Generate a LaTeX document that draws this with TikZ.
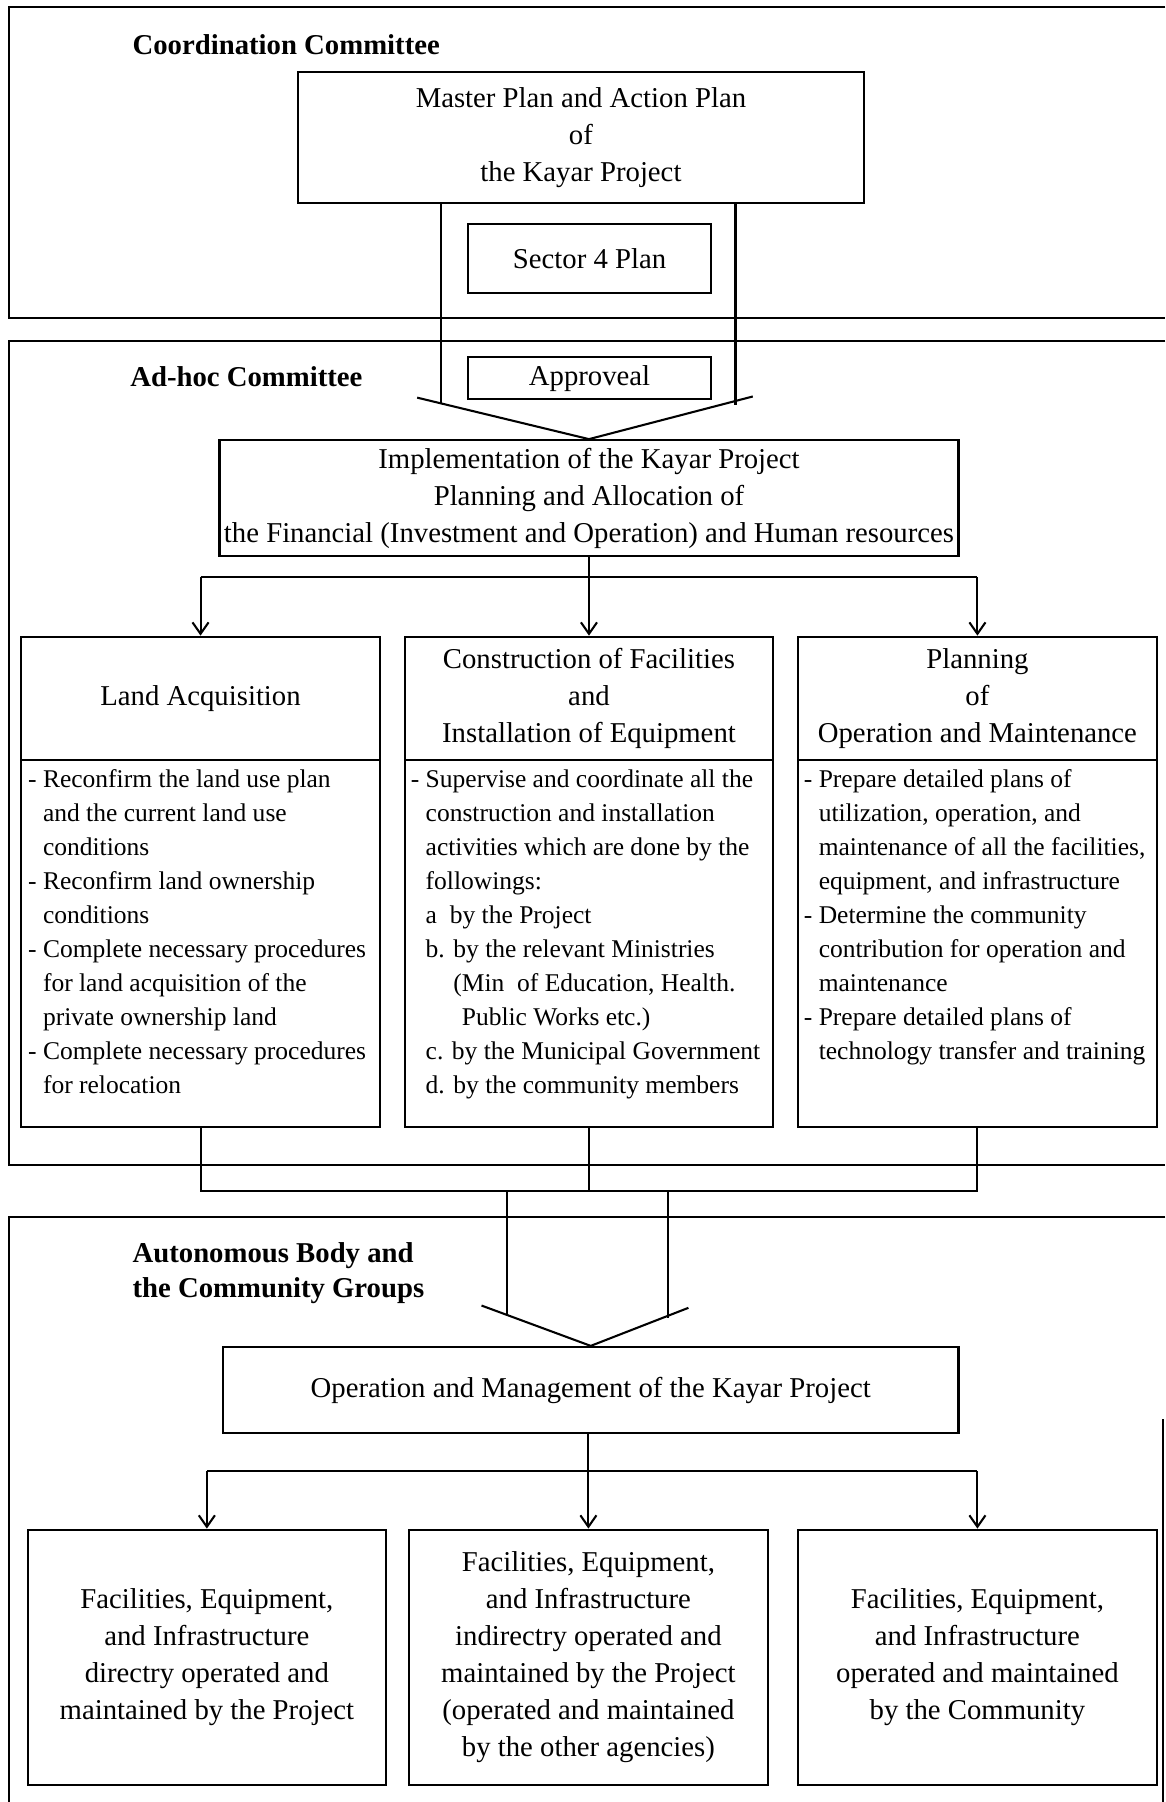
\documentclass[tikz,border=0pt]{standalone}
\usepackage{fontspec}
\setmainfont{Liberation Serif}
\usetikzlibrary{arrows.meta,positioning}
\tikzset{
  box/.style={draw,line width=0.9pt,inner sep=0pt,align=center,font=\fontsize{12.5}{16.1}\selectfont},
  txt/.style={inner sep=0pt,align=left,anchor=north west,font=\fontsize{11.1}{14.8}\selectfont},
  lbl/.style={inner sep=0pt,align=left,anchor=west,font=\fontsize{12.5}{15}\selectfont\bfseries},
  frame/.style={line width=0.8pt},
  link/.style={line width=0.9pt},
  arr/.style={link,-{Straight Barb[length=5pt,width=7pt]}}
}
\newcommand{\ind}{\hphantom{- }}

\begin{document}
\begin{tikzpicture}[x=0.5pt,y=-0.5pt]
        \def\px{0.5pt}
        \def\colTop{607.5}
        \def\bodyMid{821}
        \useasboundingbox (0,0) rectangle (1014,1568);

        \draw[frame] (1014,6) -| (8,277) -- (1014,277);
        \draw[frame] (1014,297) -| (8,1014) -- (1014,1014);
        \draw[frame] (1014,1059) -| (8,1568);
        \draw[frame] (1012,1235) -- (1012,1568);

        \node[lbl] (coord) at (115,39) {Coordination Committee};
        \node[lbl] (adhoc) at (113,328) {Ad-hoc Committee};
        \node[lbl] (auto) at (115,1108) {Autonomous Body and\\the Community Groups};

        \node[box,minimum width=493*\px,minimum height=114*\px] (master) at (505.5,120) {Master Plan and Action Plan\\of\\the Kayar Project};
        \node[box,minimum width=212*\px,minimum height=60*\px] (sector) at (513,225) {Sector 4 Plan};
        \node[box,minimum width=212*\px,minimum height=36*\px] (approval) at (513,329) {Approveal};
        \node[box,minimum width=643*\px,minimum height=101*\px] (impl) at (512.5,433.5) {Implementation of the Kayar Project\\Planning and Allocation of\\the Financial (Investment and Operation) and Human resources};

        \foreach \n/\x/\w/\head in {la/174.5/313/{Land Acquisition},
                co/512.5/321/{Construction of Facilities\\and\\Installation of Equipment},
                pl/850.5/313/{Planning\\of\\Operation and Maintenance}} {
                \node[box,minimum width=\w*\px,minimum height=107*\px] (\n-h) at (\x,\colTop) {\head};
                \node[box,minimum width=\w*\px,minimum height=320*\px] (\n-b) at (\x,\bodyMid) {};
            }

        \node[txt] (la-t) at ([shift={(7,9)}]la-b.north west) {- Reconfirm the land use plan\\
                \ind and the current land use\\
                \ind conditions\\
                - Reconfirm land ownership\\
                \ind conditions\\
                - Complete necessary procedures\\
                \ind for land acquisition of the\\
                \ind private ownership land\\
                - Complete necessary procedures\\
                \ind for relocation};
        \node[txt] (co-t) at ([shift={(6,9)}]co-b.north west) {- Supervise and coordinate all the\\
                \ind construction and installation\\
                \ind activities which are done by the\\
                \ind followings:\\
                \ind a\ \ by the Project\\
                \ind b. by the relevant Ministries\\
                \ind\hphantom{b. }(Min\ \ of Education, Health.\\
                \ind\hphantom{b. (}Public Works etc.)\\
                \ind c. by the Municipal Government\\
                \ind d. by the community members};
        \node[txt] (pl-t) at ([shift={(6,9)}]pl-b.north west) {- Prepare detailed plans of\\
                \ind utilization, operation, and\\
                \ind maintenance of all the facilities,\\
                \ind equipment, and infrastructure\\
                - Determine the community\\
                \ind contribution for operation and\\
                \ind maintenance\\
                - Prepare detailed plans of\\
                \ind technology transfer and training};

        \node[box,minimum width=640*\px,minimum height=75*\px] (op) at (514,1209.5) {Operation and Management of the Kayar Project};

        \node[box,minimum width=312*\px,minimum height=222*\px] (fa) at (180,1442) {Facilities, Equipment,\\and Infrastructure\\directry operated and\\maintained by the Project};
        \node[box,minimum width=312*\px,minimum height=222*\px] (fb) at (512,1442) {Facilities, Equipment,\\and Infrastructure\\indirectry operated and\\maintained by the Project\\(operated and maintained\\by the other agencies)};
        \node[box,minimum width=313*\px,minimum height=222*\px] (fc) at (850.5,1442) {Facilities, Equipment,\\and Infrastructure\\operated and maintained\\by the Community};

        \coordinate (vl) at (384,351);
        \coordinate (vr) at (640,352);
        \coordinate (dl) at (363,346);
        \coordinate (dr) at (655,345);
        \draw[link] (master.south -| vl) -- (vl);
        \draw[link] (master.south -| vr) -- (vr);
        \draw[link] (dl) -- (impl.north) -- (dr);

        \coordinate (hb) at (0,502);
        \draw[link] (la-h.north |- hb) -- (pl-h.north |- hb);
        \draw[arr] (impl.south) -- (co-h.north);
        \draw[arr] (la-h.north |- hb) -- (la-h.north);
        \draw[arr] (pl-h.north |- hb) -- (pl-h.north);

        \coordinate (hj) at (0,1036);
        \draw[link] (la-b.south) -- (la-b.south |- hj) -- (pl-b.south |- hj) -- (pl-b.south);
        \draw[link] (co-b.south) -- (co-b.south |- hj);
        \coordinate (wl) at (441,1145);
        \coordinate (wr) at (581,1147);
        \coordinate (el) at (419,1136);
        \coordinate (er) at (599,1138);
        \draw[link] (wl |- hj) -- (wl);
        \draw[link] (wr |- hj) -- (wr);
        \draw[link] (el) -- (op.north) -- (er);

        \coordinate (hf) at (0,1280);
        \draw[link] (fa.north |- hf) -- (fc.north |- hf);
        \draw[link] (op.south -| fb.north) -- (fb.north |- hf);
        \draw[arr] (fb.north |- hf) -- (fb.north);
        \draw[arr] (fa.north |- hf) -- (fa.north);
        \draw[arr] (fc.north |- hf) -- (fc.north);
    \end{tikzpicture}
\end{document}
